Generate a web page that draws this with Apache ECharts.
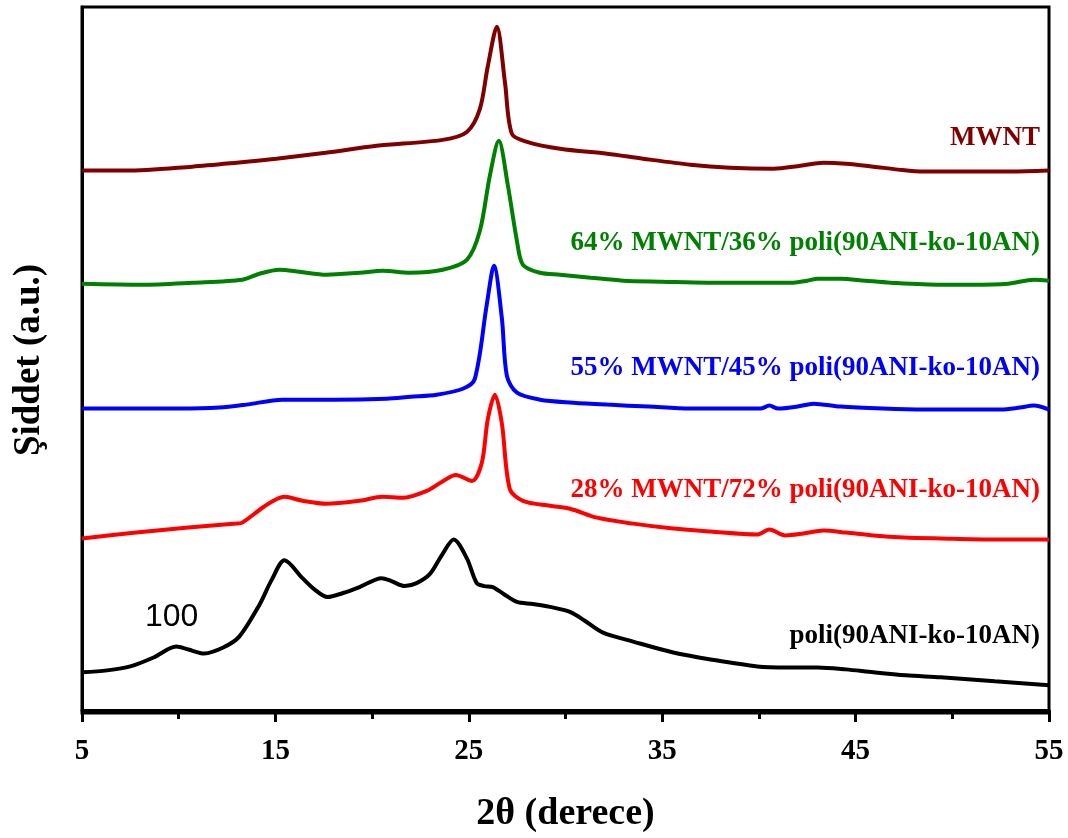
<!DOCTYPE html>
<html>
<head>
<meta charset="utf-8">
<script src="https://cdn.jsdelivr.net/npm/echarts@6/dist/echarts.min.js"></script>
<style>html,body{margin:0;padding:0;background:#fff}#c{width:1068px;height:838px}</style>
</head>
<body>
<div id="c"></div>
<script>
// x = 2θ (degrees), y = intensity (a.u., stacked with offsets as in the figure)
var poli = [[5,38],[6.3,40],[7.5,44],[8.7,53],[9.87,64],[10.5,61],[11.32,57],[12.3,63],[13.13,74],[14.17,106],[14.8,131],[15.47,151],[16.4,133],[17.0,122],[17.69,114],[18.5,118],[19.35,124],[20.49,133],[21.0,130],[21.68,125],[22.3,128],[22.98,137],[23.6,156],[24.22,172],[24.9,153],[25.41,128],[25.8,125],[26.24,124],[26.8,117],[27.49,109],[28.3,107],[29.2,104],[30.23,99],[31.0,90],[31.94,78],[33.5,69],[35.57,58],[37.5,51],[39.92,44],[41.5,43],[43.03,43],[44.5,41],[45.93,38],[47.6,35],[49.4,33],[52.2,29],[55,25]];
var mw28 = [[5,173],[7.8,179],[10.5,184],[12.98,188],[13.29,189],[14.33,204],[15.0,212],[15.47,215],[16.4,211],[17.64,208],[19.35,211],[20.54,215],[21.58,214],[22.82,221],[23.6,230],[24.33,237],[25.16,231],[25.67,249],[25.98,293],[26.35,318],[26.71,289],[27.12,223],[27.8,211],[29.2,206],[30.23,203],[31.63,194],[33.5,188],[35.57,183],[37.5,180],[39.92,177],[40.54,182],[41.37,176],[42.3,178],[43.34,181],[44.5,179],[45.93,176],[47.5,174],[49.4,173],[52,172],[55,172]];
var mw55 = [[5,304],[7.44,304],[10,304],[12.1,305],[13.5,308],[15.36,313],[18,313],[20.75,314],[22,316],[23.34,318],[24.69,324],[25.31,334],[25.93,409],[26.3,448],[26.71,395],[26.97,337],[27.49,320],[28.68,313],[30.4,310],[32.15,308],[34.3,306],[36.45,304],[38.3,304],[40.08,304],[40.54,307],[41.0,304],[42.0,306],[42.82,309],[44.22,306],[46.4,304],[48.52,303],[50.5,303],[52.51,303],[53.5,305],[54.22,307],[55,303]];
var mw64 = [[5,430],[8.11,429],[10.7,431],[13.29,434],[14.17,440],[15.21,444],[16.24,442],[17.64,439],[19.35,441],[20.54,443],[21.94,441],[23.65,444],[24.9,454],[25.57,483],[26.09,539],[26.55,574],[27.02,529],[27.49,473],[27.8,449],[28.68,441],[29.72,439],[31.3,436],[32.98,433],[35,432],[37.33,431],[39.5,431],[41.79,431],[42.5,433],[43.03,435],[44.22,435],[45.5,433],[46.81,431],[49.4,429],[51,429],[52.88,430],[54.22,434],[55,433]];
var mwnt = [[5,544],[7.28,544],[10.7,548],[13,552],[15.05,556],[17.6,562],[20.23,569],[23.65,575],[24.9,583],[25.57,606],[25.98,649],[26.45,689],[26.87,633],[27.23,581],[28.01,573],[29.72,566],[32.15,561],[34,556],[36.45,550],[38.5,547],[40.75,546],[42.15,549],[43.34,552],[44.5,551],[45.93,548],[47.2,545],[48.52,543],[51.11,543],[53,543],[55,544]];

var majorTicks = [5,15,25,35,45,55];
var minorTicks = [10,20,30,40,50];
var seriesNames = ['poli(90ANI-ko-10AN)','28% MWNT/72% poli(90ANI-ko-10AN)','55% MWNT/45% poli(90ANI-ko-10AN)','64% MWNT/36% poli(90ANI-ko-10AN)','MWNT'];
var seriesColors = ['#000000','#ff0000','#0000ff','#008000','#800000'];
var seriesData = [poli, mw28, mw55, mw64, mwnt];
var labelY = [638, 492, 370, 245, 140];

var serif = '"Liberation Serif","Times New Roman",serif';
var chart = echarts.init(document.getElementById('c'), null, {renderer:'canvas'});

var series = seriesData.map(function(d,i){
  return {type:'line', name:seriesNames[i], data:d, showSymbol:false, smooth:0.3,
    lineStyle:{color:seriesColors[i], width:4}, itemStyle:{color:seriesColors[i]}, z:3, silent:true};
});

var graphics = seriesNames.map(function(n,i){
  return {type:'text', right:28, top:labelY[i]-15, style:{text:n, fill:seriesColors[i], font:'bold 27px '+serif, textAlign:'right'}};
});
graphics.push({type:'text', left:145, top:601, style:{text:'100', fill:'#000', font:'32px "Liberation Sans",Arial,sans-serif'}});

chart.setOption({
  animation:false,
  backgroundColor:'#fff',
  grid:{left:82, right:19, top:7, bottom:119, show:true, borderColor:'#000', borderWidth:3, backgroundColor:'transparent'},
  xAxis:[{
    type:'value', min:5, max:55,
    name:'2θ (derece)', nameLocation:'middle', nameGap:82,
    nameTextStyle:{fontFamily:serif, fontWeight:'bold', fontSize:38, color:'#000'},
    axisLine:{show:true, lineStyle:{color:'#000', width:3}},
    axisTick:{show:true, inside:false, length:12, lineStyle:{color:'#000', width:3}, customValues:majorTicks},
    axisLabel:{show:true, customValues:majorTicks, margin:24, fontFamily:serif, fontWeight:'bold', fontSize:29, color:'#000'},
    splitLine:{show:false}
  },{
    type:'value', min:5, max:55, position:'bottom',
    axisLine:{show:false},
    axisTick:{show:true, inside:false, length:6, lineStyle:{color:'#000', width:3}, customValues:minorTicks},
    axisLabel:{show:false},
    splitLine:{show:false}
  }],
  yAxis:{
    type:'value', min:-3, max:709,
    name:'Şiddet (a.u.)', nameLocation:'middle', nameGap:34,
    nameTextStyle:{fontFamily:serif, fontWeight:'bold', fontSize:37, color:'#000'},
    axisLine:{show:true, lineStyle:{color:'#000', width:3}},
    axisTick:{show:false}, axisLabel:{show:false}, splitLine:{show:false}
  },
  series:series,
  graphic:graphics
});
</script>
</body>
</html>
